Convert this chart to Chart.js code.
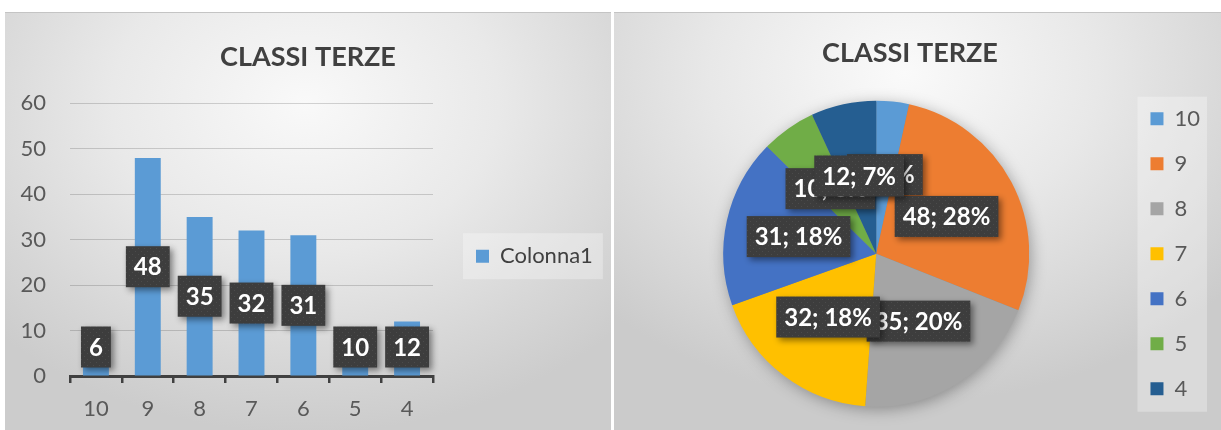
<!DOCTYPE html>
<html>
<head>
<meta charset="utf-8">
<script src="https://cdn.jsdelivr.net/npm/chart.js@4.4.1/dist/chart.umd.min.js"></script>
<style>
  html, body { margin: 0; padding: 0; background: #fff; width: 1221px; height: 430px; overflow: hidden; }
  .panel { position: absolute; top: 12px; height: 418px; border-top: 1px solid #c4c4c4; box-sizing: border-box; }
  .panel canvas { position: absolute; left: 0; top: 0; }
  #left { left: 5px; width: 606px;
    background: radial-gradient(ellipse 430px 330px at 300px 90px, #f9f9f9 0%, #e9e9e9 45%, #d6d6d6 80%, #cccccc 100%); }
  #right { left: 614px; width: 607px;
    background: radial-gradient(ellipse 430px 330px at 290px 60px, #fafafa 0%, #e8e8e8 45%, #d6d6d6 80%, #cbcbcb 100%); }
</style>
</head>
<body>
<div class="panel" id="left"><canvas id="barChart" width="606" height="417"></canvas></div>
<div class="panel" id="right"><canvas id="pieChart" width="607" height="417"></canvas></div>
<script>
const title = "CLASSI TERZE";
const classes = ["10", "9", "8", "7", "6", "5", "4"];
const students = [6, 48, 35, 32, 31, 10, 12];
const seriesName = "Colonna1";
const yTicks = [0, 10, 20, 30, 40, 50, 60];
const sliceColors = ["#5B9BD5", "#ED7D31", "#A5A5A5", "#FFC000", "#4472C4", "#70AD47", "#255E91"];

const FONT = "Lato, 'Open Sans', sans-serif";
const textGray = "#595959";

// dark dotted box used for the data labels
function labelPattern(ctx) {
    const c = document.createElement("canvas");
    c.width = 6; c.height = 6;
    const p = c.getContext("2d");
    p.fillStyle = "#3d3d3d";
    p.fillRect(0, 0, 6, 6);
    p.fillStyle = "#4b4b4b";
    p.fillRect(1, 1, 1, 1);
    p.fillRect(4, 4, 1, 1);
    return ctx.createPattern(c, "repeat");
}

function drawLabel(ctx, text, cx, cy) {
    ctx.save();
    ctx.font = "bold 24px " + FONT;
    const w = ctx.measureText(text).width + 16;
    const h = 41;
    ctx.shadowColor = "rgba(0,0,0,0.45)";
    ctx.shadowBlur = 6;
    ctx.shadowOffsetX = 3;
    ctx.shadowOffsetY = 3;
    ctx.fillStyle = labelPattern(ctx);
    ctx.fillRect(cx - w / 2, cy - h / 2, w, h);
    ctx.shadowColor = "transparent";
    ctx.fillStyle = "#ffffff";
    ctx.textAlign = "center";
    ctx.textBaseline = "middle";
    ctx.fillText(text, cx, cy + 1);
    ctx.restore();
}

// light box behind the legend
function legendBackground(expand) {
    return {
        id: "legendBackground",
        beforeDraw(chart) {
            const boxes = chart.legend && chart.legend.legendHitBoxes;
            if (!boxes || !boxes.length) return;
            let l = Infinity, t = Infinity, r = -Infinity, b = -Infinity;
            boxes.forEach((h) => {
                l = Math.min(l, h.left); t = Math.min(t, h.top);
                r = Math.max(r, h.left + h.width); b = Math.max(b, h.top + h.height);
            });
            const ctx = chart.ctx;
            ctx.save();
            ctx.fillStyle = "rgba(255,255,255,0.3)";
            ctx.fillRect(l - expand[0], t - expand[1], r - l + expand[0] + expand[2], b - t + expand[1] + expand[3]);
            ctx.restore();
        },
    };
}

// Excel-like placement: title centred on the whole panel, legend a bit away from the plot
function layoutTweak(titleCenter, legendGap) {
    return {
        id: "layoutTweak",
        afterLayout(chart) {
            const tb = chart.titleBlock;
            if (tb) {
                const half = Math.min(titleCenter, chart.width - titleCenter);
                tb.left = titleCenter - half;
                tb.right = titleCenter + half;
                tb.width = tb.right - tb.left;
            }
            const lg = chart.legend;
            if (lg && legendGap != null) {
                lg.left = chart.chartArea.right + legendGap - lg.options.labels.padding;
                lg.right = chart.width - 4;
                lg.width = lg.right - lg.left;
            }
        },
    };
}

const barLabels = {
    id: "barLabels",
    afterDatasetsDraw(chart) {
        const meta = chart.getDatasetMeta(0);
        meta.data.forEach((bar, i) => {
            let cy = (bar.y + bar.base) / 2;
            cy = Math.min(cy, bar.base - 8 - 20.5);
            drawLabel(chart.ctx, String(students[i]), bar.x, cy);
        });
    },
};

const pieDecor = {
    id: "pieDecor",
    beforeDatasetsDraw(chart) {
        const arc = chart.getDatasetMeta(0).data[0];
        if (!arc) return;
        const ctx = chart.ctx;
        ctx.save();
        ctx.shadowColor = "rgba(0,0,0,0.35)";
        ctx.shadowBlur = 16;
        ctx.shadowOffsetX = 2;
        ctx.shadowOffsetY = 3;
        ctx.fillStyle = "#888";
        ctx.beginPath();
        ctx.arc(arc.x, arc.y, arc.outerRadius - 1, 0, Math.PI * 2);
        ctx.fill();
        ctx.restore();
    },
    afterDatasetsDraw(chart) {
        const total = students.reduce((a, b) => a + b, 0);
        chart.getDatasetMeta(0).data.forEach((arc, i) => {
            const mid = (arc.startAngle + arc.endAngle) / 2;
            const r = arc.outerRadius * 0.52;
            const pct = Math.round((students[i] / total) * 100);
            drawLabel(chart.ctx, students[i] + "; " + pct + "%",
                arc.x + Math.cos(mid) * r, arc.y + Math.sin(mid) * r);
        });
    },
};

const titleOpts = {
    display: true,
    text: title,
    color: "#404040",
    font: { family: FONT, size: 27, weight: "bold" },
};

new Chart(document.getElementById("barChart"), {
    type: "bar",
    data: {
        labels: classes,
        datasets: [{
            label: seriesName,
            data: students,
            backgroundColor: "#5B9BD5",
            barPercentage: 0.5,
            categoryPercentage: 1,
        }],
    },
    options: {
        responsive: false,
        animation: false,
        layout: { padding: { left: 11, right: 39, top: 0, bottom: 8 } },
        scales: {
            x: {
                afterFit: (s) => { s.height = 46; },
                grid: { display: true, drawOnChartArea: false, drawTicks: true, tickLength: 7, color: "#404040", lineWidth: 2.5 },
                border: { display: true, color: "#404040", width: 3 },
                ticks: { color: textGray, padding: 13, font: { family: FONT, size: 22 } },
            },
            y: {
                min: 0,
                max: 60,
                afterFit: (s) => { s.width = 54; },
                afterBuildTicks: (s) => { s.ticks = yTicks.map((v) => ({ value: v })); },
                grid: { color: "rgba(0,0,0,0.16)", lineWidth: 1, drawTicks: false },
                border: { display: false },
                ticks: { color: textGray, padding: 24, font: { family: FONT, size: 22 } },
            },
        },
        plugins: {
            title: { ...titleOpts, padding: { top: 28, bottom: 30 } },
            legend: {
                position: "right",
                fullSize: false,
                title: { display: true, text: "", font: { size: 10 }, padding: { top: 0, bottom: 21 } },
                labels: { boxWidth: 13, boxHeight: 13, padding: 30, color: "#404040", font: { family: FONT, size: 22 } },
            },
            tooltip: { enabled: false },
        },
    },
    plugins: [layoutTweak(303, 43), legendBackground([13, 12, 10, 12]), barLabels],
});

new Chart(document.getElementById("pieChart"), {
    type: "pie",
    data: {
        labels: classes,
        datasets: [{
            data: students,
            backgroundColor: sliceColors,
            borderWidth: 0,
        }],
    },
    options: {
        responsive: false,
        animation: false,
        radius: 153,
        layout: { padding: { left: 11, right: 11, top: 0, bottom: 4 } },
        plugins: {
            title: { ...titleOpts, padding: { top: 24, bottom: 12 } },
            legend: {
                position: "right",
                fullSize: false,
                labels: { boxWidth: 13, boxHeight: 13, padding: 23, color: textGray, font: { family: FONT, size: 22 } },
            },
            tooltip: { enabled: false },
        },
    },
    plugins: [layoutTweak(296, null), legendBackground([13, 11, 7, 12]), pieDecor],
});
</script>
</body>
</html>
